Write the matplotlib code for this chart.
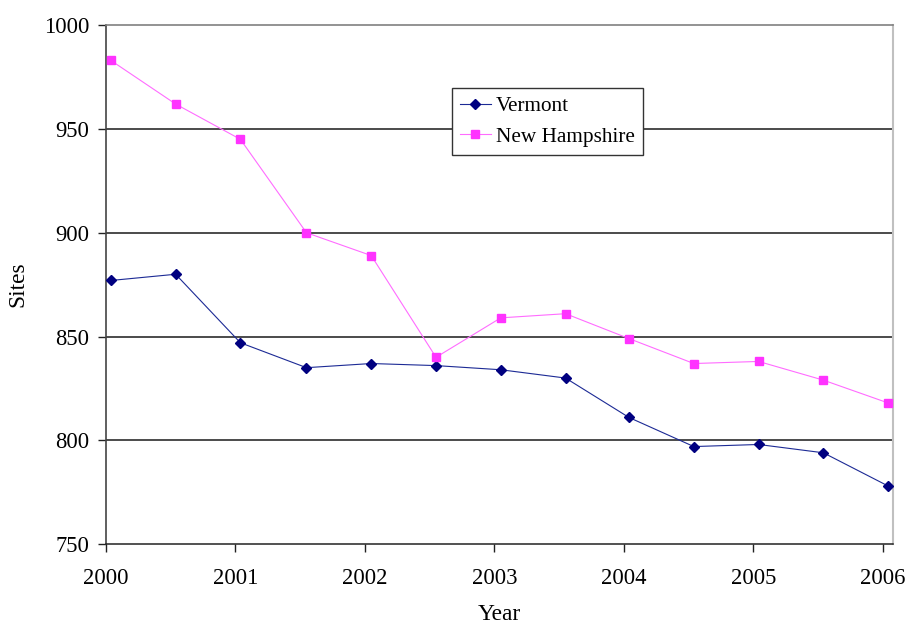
import matplotlib
matplotlib.use("Agg")
import matplotlib.pyplot as plt

# survey dates (fractional year) and site counts per state
years = [2000.04, 2000.54, 2001.04, 2001.55, 2002.05, 2002.55, 2003.05,
         2003.55, 2004.04, 2004.54, 2005.04, 2005.54, 2006.04]
vermont = [877, 880, 847, 835, 837, 836, 834, 830, 811, 797, 798, 794, 778]
new_hampshire = [983, 962, 945, 900, 889, 840, 859, 861, 849, 837, 838, 829, 818]
year_ticks = [2000, 2001, 2002, 2003, 2004, 2005, 2006]
site_ticks = [750, 800, 850, 900, 950, 1000]

plt.rcParams['font.family'] = ['Liberation Serif', 'DejaVu Serif']

fig = plt.figure(figsize=(9.11, 6.24), dpi=100)
ax = fig.add_axes([0.116, 0.128, 0.8646, 0.8317])

for y in site_ticks[1:-1]:
    ax.axhline(y, color='#1a1a1a', lw=1.1, zorder=1)

ax.plot(years, vermont, color='#1c2a95', lw=0.8, marker='D', ms=5.2,
        mfc='#000080', mec='#000080', label='Vermont', zorder=3)
ax.plot(years, new_hampshire, color='#ff6cff', lw=0.8, marker='s', ms=5.4,
        mfc='#ff33ff', mec='#ff33ff', label='New Hampshire', zorder=3)

ax.set_xlim(2000, 2006.08)
ax.set_ylim(750, 1000)
ax.set_xticks(year_ticks)
ax.set_yticks(site_ticks)
ax.tick_params(axis='both', direction='out', length=6, width=1.0,
               labelsize=16.3, color='#222222')
ax.tick_params(axis='x', pad=11)
ax.tick_params(axis='y', pad=6)

ax.spines['left'].set_color('#444444')
ax.spines['left'].set_linewidth(1.2)
ax.spines['bottom'].set_color('#222222')
ax.spines['bottom'].set_linewidth(1.1)
ax.spines['top'].set_color('#808080')
ax.spines['top'].set_linewidth(1.2)
ax.spines['right'].set_color('#c0c0c0')
ax.spines['right'].set_linewidth(1.5)

ax.set_xlabel('Year', fontsize=16.8, labelpad=11)
ax.set_ylabel('Sites', fontsize=16.8, labelpad=11)

leg = ax.legend(loc='upper left', bbox_to_anchor=(0.4394, 0.878),
                fontsize=15.3, frameon=True, fancybox=False,
                framealpha=1, edgecolor='#333333', handlelength=1.45,
                handletextpad=0.25, borderpad=0.38, labelspacing=0.5,
                borderaxespad=0)
leg.get_frame().set_linewidth(1.0)
leg.set_zorder(5)

fig.savefig('out.png', dpi=100)
